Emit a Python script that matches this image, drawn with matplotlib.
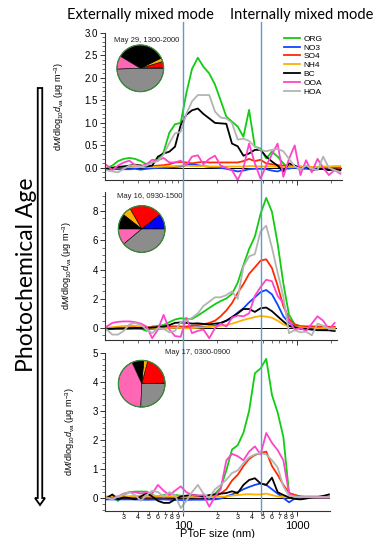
#!/usr/bin/env python3

import matplotlib
matplotlib.use('Agg')
import matplotlib.pyplot as plt
import matplotlib.ticker as mticker
from matplotlib.lines import Line2D
from matplotlib.patches import FancyArrow, Circle
import numpy as np

plt.rcParams['font.family'] = ['Liberation Sans', 'DejaVu Sans']
plt.rcParams['mathtext.fontset'] = 'custom'
plt.rcParams['mathtext.rm'] = 'Liberation Sans'
plt.rcParams['mathtext.it'] = 'Liberation Sans:italic'

# PToF size bins (nm)
sizes = [21.4, 24.0, 26.9, 30.2, 33.9, 38.0, 42.7, 47.9, 53.7, 60.3,
         67.6, 75.9, 85.1, 95.5, 107, 120, 135, 151, 170, 191,
         214, 240, 269, 302, 339, 380, 427, 479, 537, 603,
         676, 759, 851, 955, 1072, 1202, 1349, 1514, 1698, 1905,
         2138, 2399]

species = ['ORG', 'NO3', 'SO4', 'NH4', 'BC', 'OOA', 'HOA']
line_colors = ['#11cc11', '#1144ff', '#ff2a00', '#ffb000', '#000000', '#ff44cc', '#b4b4b4']

# Panel 1: May 29, 1300-2000
p1_org = [0.0, 0.05, 0.15, 0.2, 0.22, 0.2, 0.15, 0.08, 0.12, 0.17, 0.35, 0.78, 0.97, 1.0, 1.66, 2.2,
          2.45, 2.25, 2.1, 1.85, 1.5, 1.14, 1.03, 0.92, 0.69, 1.29, 0.47, 0.43, 0.21, 0.36, 0.25, 0.1,
          -0.02, 0.05, -0.03, 0.0, -0.05, 0.0, -0.03, -0.05, -0.02, -0.05]
p1_no3 = [-0.03, -0.03, -0.03, -0.03, -0.03, -0.02, -0.04, -0.02, -0.01, 0.0, 0.0, 0.01, 0.02, 0.03,
          0.06, 0.08, 0.06, 0.04, 0.02, 0.01, 0.0, -0.02, -0.05, -0.08, -0.06, -0.03, -0.02, -0.02,
          -0.03, -0.06, -0.08, -0.03, -0.01, 0.0, -0.02, -0.02, -0.02, -0.03, -0.02, -0.03, -0.02, -0.03]
p1_so4 = [0.0, 0.0, 0.02, 0.03, 0.03, 0.04, 0.05, 0.05, 0.04, 0.05, 0.06, 0.08, 0.12, 0.13, 0.12, 0.1,
          0.12, 0.13, 0.12, 0.12, 0.12, 0.12, 0.12, 0.12, 0.15, 0.2, 0.15, 0.18, 0.1, 0.08, 0.06, 0.05,
          0.04, 0.03, 0.03, 0.02, 0.02, 0.02, 0.01, 0.0, 0.0, 0.0]
p1_nh4 = [0.0, 0.0, 0.01, 0.01, 0.02, 0.02, 0.02, 0.02, 0.02, 0.02, 0.03, 0.03, 0.04, 0.05, 0.05, 0.04,
          0.04, 0.04, 0.03, 0.03, 0.03, 0.03, 0.03, 0.03, 0.03, 0.04, 0.04, 0.03, 0.03, 0.03, 0.02, 0.02,
          0.02, 0.02, 0.02, 0.02, 0.02, 0.02, 0.03, 0.03, 0.04, 0.04]
p1_bc = [-0.02, 0.0, 0.02, 0.03, 0.05, 0.07, 0.05, 0.03, 0.05, 0.25, 0.32, 0.36, 0.47, 0.95, 1.18, 1.28,
         1.32, 1.2, 1.1, 1.0, 0.99, 0.98, 0.54, 0.48, 0.27, 0.32, 0.4, 0.4, 0.25, 0.14, 0.05, -0.08,
         0.1, 0.05, -0.02, 0.03, -0.05, -0.03, -0.02, -0.05, -0.03, -0.05]
p1_ooa = [0.06, -0.05, 0.05, 0.12, 0.16, 0.06, 0.03, 0.08, 0.18, 0.17, 0.22, 0.12, 0.12, 0.16, 0.06, 0.25,
          0.28, 0.08, 0.2, 0.27, 0.05, 0.0, -0.05, -0.27, 0.0, 0.54, 0.1, -0.24, 0.05, 0.3, 0.54, -0.2,
          0.2, 0.5, -0.16, 0.17, -0.1, 0.2, 0.0, -0.16, -0.05, -0.13]
p1_hoa = [-0.05, -0.08, -0.1, -0.02, 0.05, 0.05, 0.03, 0.05, 0.12, 0.15, 0.3, 0.55, 0.77, 0.8, 1.2, 1.48,
          1.62, 1.62, 1.62, 1.25, 1.12, 1.1, 1.0, 0.63, 0.65, 0.6, 0.47, 0.4, 0.37, 0.4, 0.42, 0.37,
          0.2, 0.03, -0.03, 0.05, -0.02, -0.05, 0.25, 0.0, -0.05, -0.1]

# Panel 2: May 16, 0930-1500
p2_org = [-0.1, -0.05, 0.05, 0.1, 0.1, 0.1, -0.05, -0.2, 0.1, 0.15, 0.2, 0.4, 0.58, 0.67, 0.62, 0.62,
          0.85, 1.1, 1.37, 1.63, 1.84, 2.02, 2.33, 3.1, 4.3, 5.4, 6.25, 7.8, 8.9, 7.95, 5.8, 3.06,
          0.9, 0.25, 0.12, 0.1, 0.1, 0.1, 0.1, 0.08, 0.05]
p2_no3 = [-0.05, -0.05, -0.05, -0.05, -0.05, -0.05, -0.05, -0.05, -0.05, -0.05, -0.03, 0.0, 0.02, 0.02,
          0.02, 0.02, 0.05, 0.08, 0.1, 0.15, 0.3, 0.5, 0.7, 1.05, 1.35, 1.75, 2.1, 2.45, 2.6, 2.3,
          1.6, 0.8, 0.35, 0.12, 0.02, -0.08, -0.1, -0.12, -0.15, -0.15, -0.18]
p2_so4 = [0.0, 0.02, 0.05, 0.08, 0.08, 0.06, 0.05, 0.05, 0.05, 0.05, 0.08, 0.1, 0.12, 0.1, 0.1, 0.15,
          0.2, 0.25, 0.35, 0.5, 0.8, 1.2, 1.7, 2.4, 3.0, 3.7, 4.15, 4.6, 4.7, 4.1, 2.9, 1.5,
          0.6, 0.25, 0.12, 0.1, 0.1, 0.08, 0.08, 0.08, 0.08]
p2_nh4 = [0.0, 0.05, 0.1, 0.12, 0.15, 0.15, 0.1, 0.05, 0.0, -0.02, -0.05, 0.0, 0.02, 0.0, -0.03, 0.0,
          0.02, 0.05, 0.08, 0.1, 0.15, 0.2, 0.3, 0.42, 0.55, 0.65, 0.75, 0.82, 0.78, 0.7, 0.5, 0.25,
          0.1, 0.05, 0.05, 0.0, -0.1, -0.05, 0.0, 0.0, 0.0]
p2_bc = [-0.05, -0.05, -0.03, -0.03, -0.02, 0.0, 0.0, 0.02, 0.03, 0.05, 0.1, 0.2, 0.35, 0.38, 0.35, 0.3,
         0.32, 0.28, 0.25, 0.3, 0.35, 0.5, 0.75, 1.0, 1.3, 1.3, 1.1, 1.35, 1.4, 1.15, 0.8, 0.45,
         0.15, 0.05, -0.05, -0.05, -0.1, -0.15, -0.15, -0.15, -0.2]
p2_ooa = [0.1, 0.35, 0.42, 0.45, 0.45, 0.4, 0.3, 0.1, -0.7, -0.1, 0.9, -0.1, -0.55, -0.6, 0.7, -0.35,
          -0.2, -0.1, -0.7, 0.0, 0.3, 0.1, 0.7, 0.85, 0.8, 1.0, 2.2, 2.8, 3.3, 3.2, 2.2, 1.7,
          0.45, -0.1, 0.0, -0.2, 0.3, 0.8, 0.5, -0.1, 0.35]
p2_hoa = [-0.1, -0.45, -0.45, -0.2, 0.25, 0.35, 0.2, -0.1, -0.35, 0.0, -0.05, -0.3, -0.2, 0.4, 0.5, 0.7,
          1.0, 1.5, 1.8, 2.1, 2.1, 2.25, 2.5, 2.0, 4.2, 4.9, 5.05, 6.6, 7.0, 5.5, 3.8, 2.15,
          -0.35, -0.15, -0.3, -0.25, -0.5, 0.3, 0.15, -0.05, -0.1]

# Panel 3: May 17, 0300-0900
p3_org = [0.0, 0.02, -0.1, 0.1, 0.2, 0.22, 0.22, 0.22, 0.1, 0.05, 0.1, 0.15, 0.1, 0.08, 0.05, 0.08,
          0.05, 0.08, 0.05, 0.15, 0.35, 0.95, 1.67, 1.82, 2.25, 3.0, 4.3, 4.47, 4.8, 3.55, 2.95, 2.1,
          0.17, 0.1, 0.05, 0.05, 0.05, 0.05, 0.05, 0.05]
p3_no3 = [-0.05, -0.05, -0.05, -0.05, -0.05, -0.05, -0.06, -0.06, -0.06, -0.05, -0.05, -0.06, -0.07,
          -0.07, -0.07, -0.06, -0.06, -0.06, -0.05, -0.05, -0.02, 0.05, 0.12, 0.2, 0.3, 0.38, 0.45,
          0.5, 0.45, 0.3, 0.15, 0.0, -0.15, -0.02, 0.0, 0.0, 0.0, 0.0, 0.0, 0.0]
p3_so4 = [0.03, 0.03, 0.02, 0.03, 0.02, 0.03, 0.02, 0.02, 0.02, 0.03, 0.02, 0.02, 0.03, 0.02, 0.02, 0.03,
          0.02, 0.03, 0.04, 0.05, 0.15, 0.3, 0.6, 0.8, 1.1, 1.35, 1.48, 1.55, 1.6, 1.1, 0.8, 0.45,
          0.17, 0.1, 0.05, 0.03, 0.02, 0.02, 0.02, 0.02]
p3_nh4 = [0.05, 0.06, 0.05, 0.05, 0.06, 0.07, 0.07, 0.08, 0.08, 0.07, 0.06, 0.06, 0.05, 0.05, 0.04, 0.04,
          0.03, 0.03, 0.03, 0.03, 0.04, 0.05, 0.08, 0.1, 0.12, 0.13, 0.12, 0.12, 0.15, 0.1, 0.05, 0.03,
          0.02, 0.02, 0.02, 0.02, 0.02, 0.02, 0.02, 0.02]
p3_bc = [0.0, 0.12, -0.05, 0.02, 0.0, -0.05, 0.05, 0.17, 0.05, -0.1, -0.17, -0.17, -0.05, 0.05, 0.08, 0.1,
         0.08, 0.05, 0.1, 0.12, 0.15, 0.17, 0.23, 0.17, 0.45, 0.62, 0.68, 0.5, 0.45, 0.7, 0.2, 0.1,
         0.02, -0.03, -0.05, -0.02, 0.02, 0.03, 0.07, 0.12]
p3_ooa = [0.0, 0.0, 0.05, 0.15, 0.2, 0.2, 0.15, 0.2, 0.15, 0.45, 0.25, 0.1, 0.25, 0.4, 0.2, 0.1,
          0.08, 0.1, -0.3, 0.05, 0.3, 1.3, 1.52, 1.44, 1.3, 1.6, 1.78, 1.5, 2.24, 1.9, 1.65, 1.3,
          0.15, 0.05, 0.03, 0.03, 0.03, 0.03, 0.03, 0.03]
p3_hoa = [0.0, -0.05, 0.05, 0.12, 0.2, 0.1, -0.1, 0.1, 0.25, 0.2, 0.05, 0.2, 0.1, -0.35, -0.1, 0.2,
          0.45, 0.15, 0.0, 0.3, 0.45, 0.63, 0.86, 0.95, 1.2, 1.4, 1.5, 1.55, 1.5, 1.3, 1.05, 0.4,
          0.08, 0.05, 0.03, 0.03, 0.03, 0.03, 0.03, 0.03]

# Pie fractions (%): NO3, SO4, NH4, BC, OOA, HOA
pie_labels = ['NO3', 'SO4', 'NH4', 'BC', 'OOA', 'HOA']
pie_colors = ['#0000ff', '#ff0000', '#ffb000', '#000000', '#ff66b3', '#8c8c8c']
pie1 = [0.3, 4.4, 2.5, 34.2, 9.2, 49.4]
pie2 = [10.8, 22.5, 6.1, 10.6, 11.1, 38.9]
pie3 = [0.5, 20.4, 2.6, 8.3, 42.6, 25.6]

titles = ['May 29, 1300-2000', 'May 16, 0930-1500', 'May 17, 0300-0900']

W, H = 378, 538


def px_box(x0, y0, x1, y1):
    """Convert a pixel box (top-left origin) into figure fractions."""
    return [x0 / W, 1 - y1 / H, (x1 - x0) / W, (y1 - y0) / H]


def minor_label(v, pos):
    e = np.floor(np.log10(v) + 1e-9)
    d = int(round(v / 10 ** e))
    return str(d) if 2 <= d <= 9 else ''


fig = plt.figure(figsize=(W / 100, H / 100), dpi=100)

panels = [
    dict(box=(105, 33, 342, 180), xmax=2483, ylim=(-0.27, 3.0), major=0.5, minor=0.1, fmt='%.1f',
         data=[p1_org, p1_no3, p1_so4, p1_nh4, p1_bc, p1_ooa, p1_hoa], pie=pie1,
         pie_c=(140.3, 68.3), title_xy=(114, 40), lab=-0.165),
    dict(box=(105, 192, 337, 340), xmax=2244, ylim=(-0.82, 9.3), major=2, minor=0.5, fmt='%d',
         data=[p2_org, p2_no3, p2_so4, p2_nh4, p2_bc, p2_ooa, p2_hoa], pie=pie2,
         pie_c=(141.7, 229), title_xy=(117, 197), lab=-0.134),
    dict(box=(105, 353, 330, 511), xmax=1946, ylim=(-0.45, 5.0), major=1, minor=0.2, fmt='%d',
         data=[p3_org, p3_no3, p3_so4, p3_nh4, p3_bc, p3_ooa, p3_hoa], pie=pie3,
         pie_c=(141.7, 383.7), title_xy=(165, 352), lab=-0.124),
]

axes = []
for k, p in enumerate(panels):
    ax = fig.add_axes(px_box(*p['box']))
    axes.append(ax)
    ax.axhline(0, color='black', lw=0.7, zorder=1)
    for name, col, vals in zip(species, line_colors, p['data']):
        ax.plot(sizes[:len(vals)], vals, color=col, lw=1.3, label=name, zorder=2)
    ax.set_xscale('log')
    ax.set_xlim(20.7, p['xmax'])
    ax.set_ylim(*p['ylim'])
    ax.spines['top'].set_visible(False)
    ax.spines['right'].set_visible(False)
    ax.spines['left'].set_color('#333333')
    ax.spines['bottom'].set_color('#333333')
    ax.spines['left'].set_linewidth(0.8)
    ax.spines['bottom'].set_linewidth(0.8)
    ax.yaxis.set_major_locator(mticker.MultipleLocator(p['major']))
    ax.yaxis.set_minor_locator(mticker.MultipleLocator(p['minor']))
    ax.yaxis.set_major_formatter(mticker.FormatStrFormatter(p['fmt']))
    ax.xaxis.set_major_locator(mticker.LogLocator(base=10, numticks=10))
    ax.xaxis.set_minor_locator(mticker.LogLocator(base=10, subs=np.arange(2, 10), numticks=20))
    ax.tick_params(axis='both', which='major', length=3.5, width=0.7, labelsize=7, pad=1.5, color='#333333')
    ax.tick_params(axis='both', which='minor', length=2, width=0.5, color='#333333')
    if k < 2:
        ax.xaxis.set_major_formatter(mticker.NullFormatter())
        ax.xaxis.set_minor_formatter(mticker.NullFormatter())
    else:
        ax.xaxis.set_major_formatter(mticker.FuncFormatter(lambda v, pos: '%d' % round(v)))
        ax.xaxis.set_minor_formatter(mticker.FuncFormatter(minor_label))
        ax.tick_params(axis='x', which='minor', labelsize=5, pad=0.5)
        ax.tick_params(axis='x', which='major', labelsize=8, pad=3.5)
        ax.set_xlabel('PToF size (nm)', fontsize=8, labelpad=-1)
    ax.set_ylabel(r'd$\it{M}$/dlog$_{10}$$\it{d}_{\rm va}$ (μg m$^{-3}$)', fontsize=6.5)
    ax.yaxis.set_label_coords(p['lab'], 0.5)
    tx, ty = p['title_xy']
    fig.text(tx / W, 1 - ty / H, titles[k], fontsize=5.5, va='center', ha='left', color='#222222')

    # composition pie
    cx, cy = p['pie_c']
    r = 24.5
    pax = fig.add_axes(px_box(cx - r, cy - r, cx + r, cy + r))
    pax.pie(p['pie'], colors=pie_colors, startangle=0, counterclock=True,
            wedgeprops=dict(edgecolor='black', linewidth=0.4))
    pax.add_patch(Circle((0, 0), 1.0, fill=False, edgecolor='#3a8a3a', lw=0.9))
    pax.set_xlim(-1.05, 1.05)
    pax.set_ylim(-1.05, 1.05)
    pax.set_aspect('equal')
    pax.axis('off')

axes[0].legend(loc='upper left', bbox_to_anchor=(0.74, 1.01), frameon=False, fontsize=6,
               handlelength=2.0, handletextpad=0.4, labelspacing=0.12, borderaxespad=0)

# mode boundaries
for xp in (182.5, 261.3):
    fig.add_artist(Line2D([xp / W, xp / W], [1 - 22 / H, 1 - 513 / H], transform=fig.transFigure,
                          color='#5b9bd5', lw=1.0))

fig.text(140 / W, 1 - 15 / H, 'Externally mixed mode', fontsize=10.5, family=['Lato', 'DejaVu Sans'],
         ha='center', va='center')
fig.text(302 / W, 1 - 15 / H, 'Internally mixed mode', fontsize=10.5, family=['Lato', 'DejaVu Sans'],
         ha='center', va='center')
fig.text(27 / W, 1 - 275 / H, 'Photochemical Age', fontsize=16.5, family=['Lato', 'DejaVu Sans'],
         rotation=90, ha='center', va='center')

# photochemical age arrow
fig.add_artist(FancyArrow(40 / W, 1 - 88 / H, 0, -(505 - 88) / H, width=4.5 / W, head_width=10 / W,
                          head_length=7 / H, length_includes_head=True, transform=fig.transFigure,
                          facecolor='white', edgecolor='black', lw=1.3))

fig.savefig('out.png', dpi=100)
